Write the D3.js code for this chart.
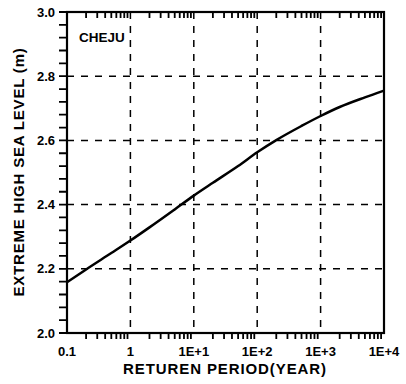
<!DOCTYPE html>
<html><head><meta charset="utf-8">
<script src="https://cdn.jsdelivr.net/npm/d3@7"></script>
<style>
html,body{margin:0;padding:0;background:#fff;}
text{font-family:"Liberation Sans",Arial,Helvetica,sans-serif;font-weight:bold;fill:#000;}
</style></head>
<body>
<svg id="c" width="406" height="384"></svg>
<script>
// Data
const returnPeriod = [0.1, 0.2, 0.5, 1, 2, 5, 10, 20, 50, 100, 200, 500, 1000, 2000, 5000, 10000];
const seaLevel     = [2.158, 2.198, 2.249, 2.288, 2.329, 2.385, 2.428, 2.468, 2.520, 2.563, 2.601, 2.645, 2.676, 2.704, 2.734, 2.755];
const xTickValues = [0.1, 1, 10, 100, 1000, 10000];
const xTickLabels = ["0.1", "1", "1E+1", "1E+2", "1E+3", "1E+4"];
const yTickValues = [2.0, 2.2, 2.4, 2.6, 2.8, 3.0];
const xGridValues = [1, 10, 100, 1000];
const yGridValues = [2.2, 2.4, 2.6, 2.8];
const xMinorMultipliers = [2, 3, 4, 5, 6, 7, 8, 9];
const yMinorStep = 0.04;
const stationName = "CHEJU";
const xTitle = "RETUREN PERIOD(YEAR)";
const yTitle = "EXTREME HIGH SEA LEVEL (m)";

const svg = d3.select("#c");
const L = 67, R = 384, T = 12, B = 333;
const x = d3.scaleLog().domain([0.1, 10000]).range([L, R]);
const y = d3.scaleLinear().domain([2.0, 3.0]).range([B, T]);

// minor tick positions
const minor = [];
[0.1, 1, 10, 100, 1000].forEach(base => xMinorMultipliers.forEach(m => minor.push(m * base)));
const yMinor = d3.range(0, 26).map(i => 2 + i * yMinorStep);

// ticks as paths
const bottomPath = minor.map(d => `M${x(d)},${B}v6`).join("");
const topPath = minor.map(d => `M${x(d)},${T}v6`).join("");
const leftPath = yMinor.map(d => `M${L - 8},${y(d)}h8`).join("");
svg.append("path").attr("d", bottomPath + topPath + leftPath)
  .attr("fill", "none").attr("stroke", "#000").attr("stroke-width", 1.8);

// grid
const g = svg.append("g");
g.selectAll("line.gx").data(xGridValues).enter().append("line")
  .attr("x1", d => x(d)).attr("x2", d => x(d)).attr("y1", T).attr("y2", B)
  .attr("stroke", "#000").attr("stroke-width", 1.5).attr("stroke-dasharray", "7,7");
g.selectAll("line.gy").data(yGridValues).enter().append("line")
  .attr("x1", L).attr("x2", R).attr("y1", d => y(d)).attr("y2", d => y(d))
  .attr("stroke", "#000").attr("stroke-width", 1.5).attr("stroke-dasharray", "7,7");

// frame
svg.append("rect").attr("x", L).attr("y", T).attr("width", R - L).attr("height", B - T)
  .attr("fill", "none").attr("stroke", "#000").attr("stroke-width", 2.2);

// tick labels
svg.selectAll("text.yl").data(yTickValues).enter().append("text").attr("class", "yl")
  .attr("x", 55).attr("y", d => y(d)).attr("dy", "0.36em").attr("text-anchor", "end")
  .attr("font-size", 13).text(d => d.toFixed(1));
svg.selectAll("text.xl").data(xTickValues).enter().append("text").attr("class", "xl")
  .attr("x", (d) => x(d)).attr("y", 356).attr("text-anchor", "middle")
  .attr("font-size", 13).text((d, i) => xTickLabels[i]);

// curve
const line = d3.line().x((d, i) => x(returnPeriod[i])).y(d => y(d)).curve(d3.curveMonotoneX);
svg.append("path").datum(seaLevel).attr("d", line)
  .attr("fill", "none").attr("stroke", "#000").attr("stroke-width", 2.5);

// station label
svg.append("text").attr("x", 79).attr("y", 42).attr("font-size", 13.5).text(stationName);

// titles
svg.append("text").attr("x", 225).attr("y", 374).attr("text-anchor", "middle")
  .attr("font-size", 15).attr("letter-spacing", 0.9).text(xTitle);
svg.append("text").attr("transform", "translate(24,172) rotate(-90)").attr("text-anchor", "middle")
  .attr("font-size", 15).attr("letter-spacing", 0.8).text(yTitle);
</script>
</body></html>
